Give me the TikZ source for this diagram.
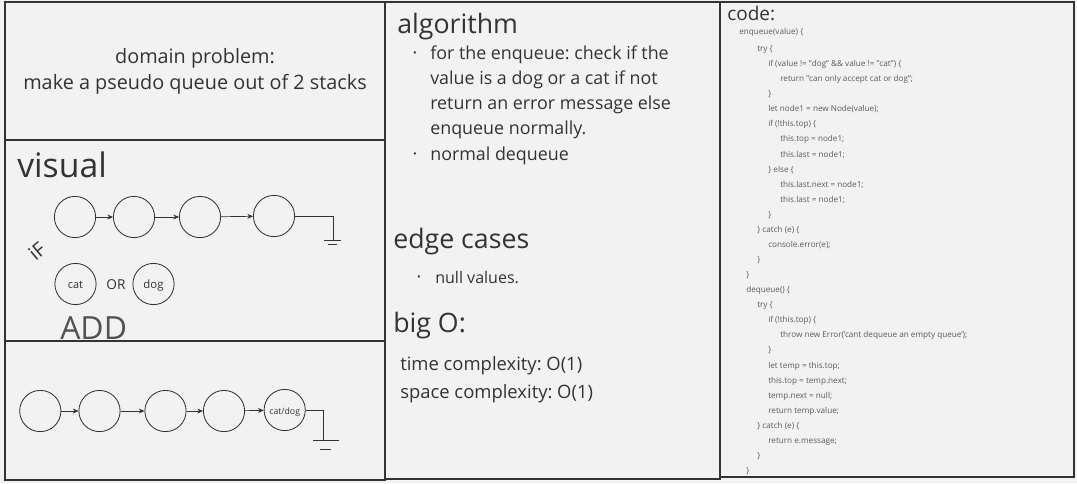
\documentclass[tikz,border=0pt]{standalone}
\usepackage{fontspec}
\setmainfont{Open Sans}
\frenchspacing
\usetikzlibrary{arrows.meta}
\definecolor{board}{HTML}{F2F2F2}
\definecolor{ink}{HTML}{333333}
\definecolor{codeink}{HTML}{5A5A5A}
\tikzset{
  frame/.style={draw=ink, line width=1pt},
  qnode/.style={circle, draw=ink, line width=0.6pt, minimum size=1.03cm, inner sep=0pt, text=ink, text height=1.4ex, text depth=0.3ex},
  link/.style={draw=ink, line width=0.5pt, -{Stealth[length=4pt,width=3.5pt]}},
  wire/.style={draw=ink, line width=0.6pt},
  heading/.style={anchor=base west, inner sep=0pt, text=ink, font=\fontsize{19}{22}\selectfont},
  bodytext/.style={anchor=base west, inner sep=0pt, text=ink, font=\fontsize{12.7}{15}\selectfont},
  codetext/.style={anchor=base west, inner sep=0pt, text=codeink, font=\fontsize{5.8}{7}\selectfont},
  dot/.style={inner sep=0pt, text=ink, font=\fontsize{7}{8}\selectfont}
}
\begin{document}
\begin{tikzpicture}[x=0.025cm, y=-0.025cm]
    \useasboundingbox (0,0) rectangle (1077,483);
    \fill[board] (0,0) rectangle (1077,483);
    % frames
    \draw[frame] (5,2) rectangle (385,480);
    \draw[frame] (5,140) -- (385,140);
    \draw[frame] (5,341) -- (385,341);
    \draw[frame] (385,2) rectangle (720,479);
    \draw[frame] (720,2) rectangle (1074,477);

    % domain problem
    \node[align=center, inner sep=0pt, text=ink, font=\fontsize{14.1}{18.5}\selectfont] (domain) at (195,71)
        {domain problem:\\make a pseudo queue out of 2 stacks};

    % visual
    \node[anchor=base west, inner sep=0pt, text=ink, font=\fontsize{24}{28}\selectfont] (visual) at (17,177) {visual};
    \node[qnode] (q1) at (75,217) {};
    \node[qnode] (q2) at (134,217) {};
    \node[qnode] (q3) at (200,217) {};
    \node[qnode] (q4) at (274,216) {};
    \draw[link] (q1) -- (q2);
    \draw[link] (q2) -- (q3);
    \draw[link] (q3) -- (q4);
    \coordinate (g1) at (333,240);
    \draw[wire] (q4.east) -| (g1);
    \draw[wire] (324,240.5) -- (341,240.5);
    \draw[wire] (328,244.5) -- (337,244.5);
    \node[rotate=40, inner sep=0pt, text=ink, font=\fontsize{14}{15}\selectfont] (iflabel) at (37,251) {iF};
    \node[qnode, font=\fontsize{7.8}{9}\selectfont] (cat) at (75.5,284) {cat};
    \node[inner sep=0pt, text=ink, font=\fontsize{9.7}{11}\selectfont] (orlabel) at (116,285) {OR};
    \node[qnode, font=\fontsize{8.1}{9}\selectfont] (dog) at (153.5,284) {dog};
    \node[anchor=base west, inner sep=0pt, text=ink!85, font=\fontsize{22.7}{26}\selectfont] (add) at (60,339) {ADD};

    % enqueue result
    \node[qnode] (r1) at (40.3,411) {};
    \node[qnode] (r2) at (99.5,411) {};
    \node[qnode] (r3) at (165.5,411) {};
    \node[qnode] (r4) at (224,411) {};
    \node[qnode, font=\fontsize{6.2}{7}\selectfont] (r5) at (284.7,410) {cat/dog};
    \draw[link] (r1) -- (r2);
    \draw[link] (r2) -- (r3);
    \draw[link] (r3) -- (r4);
    \draw[link] (r4) -- (r5);
    \coordinate (g2) at (323,440);
    \draw[wire] (r5.east) -| (g2);
    \draw[wire] (313,440) -- (339,440);
    \draw[wire] (320,449) -- (331,449);

    % algorithm
    \node[heading] (algo) at (397,33) {algorithm};
    \node[dot] (algdot1) at (415,54) {•};
    \node[bodytext] (alg1) at (430,59) {for the enqueue: check if the};
    \node[bodytext] (alg2) at (430,84.2) {value is a dog or a cat if not};
    \node[bodytext] (alg3) at (430,109.4) {return an error message else};
    \node[bodytext] (alg4) at (430,134.6) {enqueue normally.};
    \node[dot] (algdot2) at (415,155) {•};
    \node[bodytext] (alg5) at (430,160) {normal dequeue};

    % edge cases
    \node[heading] (edge) at (393,248) {edge cases};
    \node[dot] (edgedot) at (419,278) {•};
    \node[anchor=base west, inner sep=0pt, text=ink, font=\fontsize{11.4}{13}\selectfont] (edge1) at (435,283) {null values.};

    % big O
    \node[heading] (bigo) at (393,332) {big O:};
    \node[anchor=base west, inner sep=0pt, text=ink, font=\fontsize{13.1}{15}\selectfont] (timec) at (400,370) {time complexity: O(1)};
    \node[anchor=base west, inner sep=0pt, text=ink, font=\fontsize{13.1}{15}\selectfont] (spacec) at (400,398) {space complexity: O(1)};

    % code
    \node[anchor=base west, inner sep=0pt, text=ink, font=\fontsize{13.5}{15}\selectfont] (codehead) at (727,20) {code:};
    \foreach \cx/\txt [count=\i from 0] in {
        739/enqueue(value) \{,
        757/try \{,
        768/if (value != "dog" \&\& value != "cat") \{,
        780/return "can only accept cat or dog";,
        768/\},
        768/let node1 = new Node(value);,
        768/if (!this.top) \{,
        780/this.top = node1;,
        780/this.last = node1;,
        768/\} else \{,
        780/this.last.next = node1;,
        780/this.last = node1;,
        768/\},
        757/\} catch (e) \{,
        768/console.error(e);,
        757/\},
        746/\},
        746/dequeue() \{,
        757/try \{,
        768/if (!this.top) \{,
        780/throw new Error('cant dequeue an empty queue');,
        768/\},
        768/let temp = this.top;,
        768/this.top = temp.next;,
        768/temp.next = null;,
        768/return temp.value;,
        757/\} catch (e) \{,
        768/return e.message;,
        757/\},
        746/\}}
    {
        \pgfmathsetmacro\ly{\i==0 ? 34 : 36.5+15.07*\i}
        \node[codetext] (code\i) at (\cx,\ly) {\txt};
    }
\end{tikzpicture}
\end{document}
